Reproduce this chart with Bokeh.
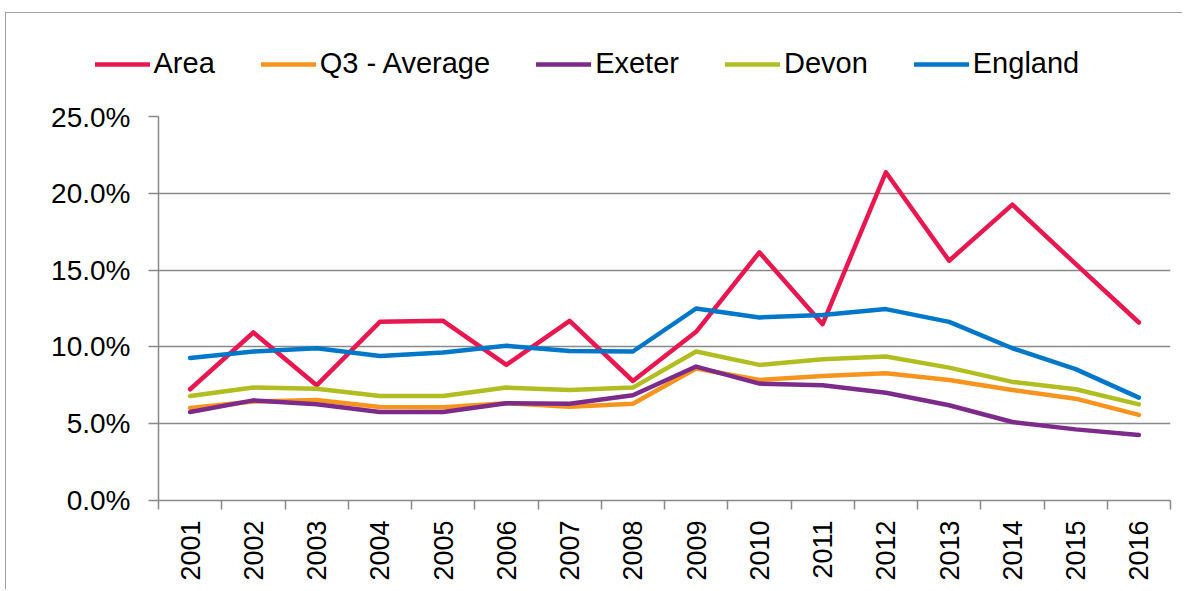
from bokeh.plotting import figure
from bokeh.models import Range1d, FixedTicker, NumeralTickFormatter, Legend, LegendItem
from bokeh.embed import file_html
from bokeh.resources import INLINE
import math

years = list(range(2001, 2017))
year_labels = [str(y) for y in years]

area    = [7.24, 10.94, 7.50, 11.63, 11.70, 8.83, 11.70, 7.78, 10.98, 16.16, 11.48, 21.37, 15.61, 19.26, 15.40, 11.59]
q3_avg  = [6.02, 6.44, 6.54, 6.09, 6.07, 6.33, 6.11, 6.30, 8.59, 7.85, 8.11, 8.28, 7.85, 7.20, 6.63, 5.57]
exeter  = [5.76, 6.52, 6.26, 5.76, 5.76, 6.33, 6.30, 6.85, 8.72, 7.61, 7.50, 7.02, 6.20, 5.11, 4.63, 4.26]
devon   = [6.80, 7.35, 7.28, 6.80, 6.80, 7.35, 7.20, 7.35, 9.70, 8.83, 9.20, 9.37, 8.65, 7.72, 7.24, 6.26]
england = [9.28, 9.70, 9.91, 9.41, 9.63, 10.07, 9.74, 9.70, 12.50, 11.92, 12.07, 12.46, 11.63, 9.91, 8.55, 6.70]

series_names = ["Area", "Q3 - Average", "Exeter", "Devon", "England"]
series_values = [area, q3_avg, exeter, devon, england]
series_colors = ["#E8174F", "#F7941D", "#7D2B8B", "#B1BE21", "#0077C8"]

y_ticks = [0.0, 0.05, 0.10, 0.15, 0.20, 0.25]

FONT = "Liberation Sans"
GRAY = "#898989"
FRAME = "1.5px solid #a0a0a0"
LW = 4.5

W = 1177
H_TOP, H_MAIN = 89, 488
BL, BR, BT, BB = 152, 13, 15, 89

# ---- main chart ----
p = figure(width=W, height=H_MAIN, output_backend="svg", toolbar_location=None,
           x_range=Range1d(2000.5, 2016.5), y_range=Range1d(0, 0.25),
           min_border_left=BL, min_border_right=BR, min_border_top=BT, min_border_bottom=BB)
p.outline_line_color = None
p.xgrid.grid_line_color = None
p.ygrid.grid_line_color = GRAY
p.ygrid.grid_line_width = 1.5
p.ygrid.ticker = FixedTicker(ticks=y_ticks)
p.background_fill_color = "white"
p.border_fill_color = "white"
p.styles = {"margin-left": "5px", "border-left": FRAME}

ya = p.yaxis[0]
ya.ticker = FixedTicker(ticks=y_ticks)
ya.formatter = NumeralTickFormatter(format="0.0%")
ya.axis_line_color = GRAY
ya.axis_line_width = 1.5
ya.major_tick_line_color = GRAY
ya.major_tick_line_width = 1.5
ya.major_tick_out = 10
ya.major_tick_in = 0
ya.minor_tick_line_color = None
ya.major_label_text_font = FONT
ya.major_label_text_font_size = "28px"
ya.major_label_text_color = "black"
ya.major_label_standoff = 18

xa = p.xaxis[0]
xa.ticker = FixedTicker(ticks=years, minor_ticks=[y - 0.5 for y in years] + [years[-1] + 0.5])
xa.major_label_overrides = {y: s for y, s in zip(years, year_labels)}
xa.axis_line_color = GRAY
xa.axis_line_width = 1.5
xa.major_tick_line_color = None
xa.major_tick_out = 0
xa.major_tick_in = 0
xa.minor_tick_line_color = GRAY
xa.minor_tick_line_width = 1.5
xa.minor_tick_out = 9
xa.minor_tick_in = 0
xa.major_label_orientation = math.pi / 2
xa.major_label_text_font = FONT
xa.major_label_text_font_size = "27px"
xa.major_label_text_color = "black"
xa.major_label_standoff = 11

for name, vals, col in zip(series_names, series_values, series_colors):
    p.line(years, [v / 100 for v in vals], line_color=col, line_width=LW,
           line_join="round", line_cap="round")

# ---- legend strip above the chart ----
lg = figure(width=W, height=H_TOP, output_backend="svg", toolbar_location=None,
            x_range=Range1d(0, 1), y_range=Range1d(0, 1),
            x_axis_location=None, y_axis_location=None, min_border=0)
lg.outline_line_color = None
lg.grid.visible = False
lg.background_fill_color = "white"
lg.border_fill_color = "white"
lg.styles = {"margin-left": "5px", "margin-top": "12px", "border-top": FRAME, "border-left": FRAME}

nan = float("nan")
items = []
for name, col in zip(series_names, series_colors):
    r = lg.line(x=[nan, nan], y=[nan, nan], line_color=col, line_width=LW, line_cap="round")
    items.append(LegendItem(label=name, renderers=[r]))

legend = Legend(items=items, orientation="horizontal",
                location=(95 - 6.5, H_TOP - (78.5 - 13.5) - 2),
                glyph_width=55, glyph_height=30, label_height=30, label_standoff=4,
                spacing=46, padding=0, margin=0,
                label_text_font=FONT, label_text_font_size="29px", label_text_color="black",
                border_line_color=None, background_fill_alpha=0)
lg.add_layout(legend, "center")

open("out.html", "w").write(file_html([lg, p], INLINE))
